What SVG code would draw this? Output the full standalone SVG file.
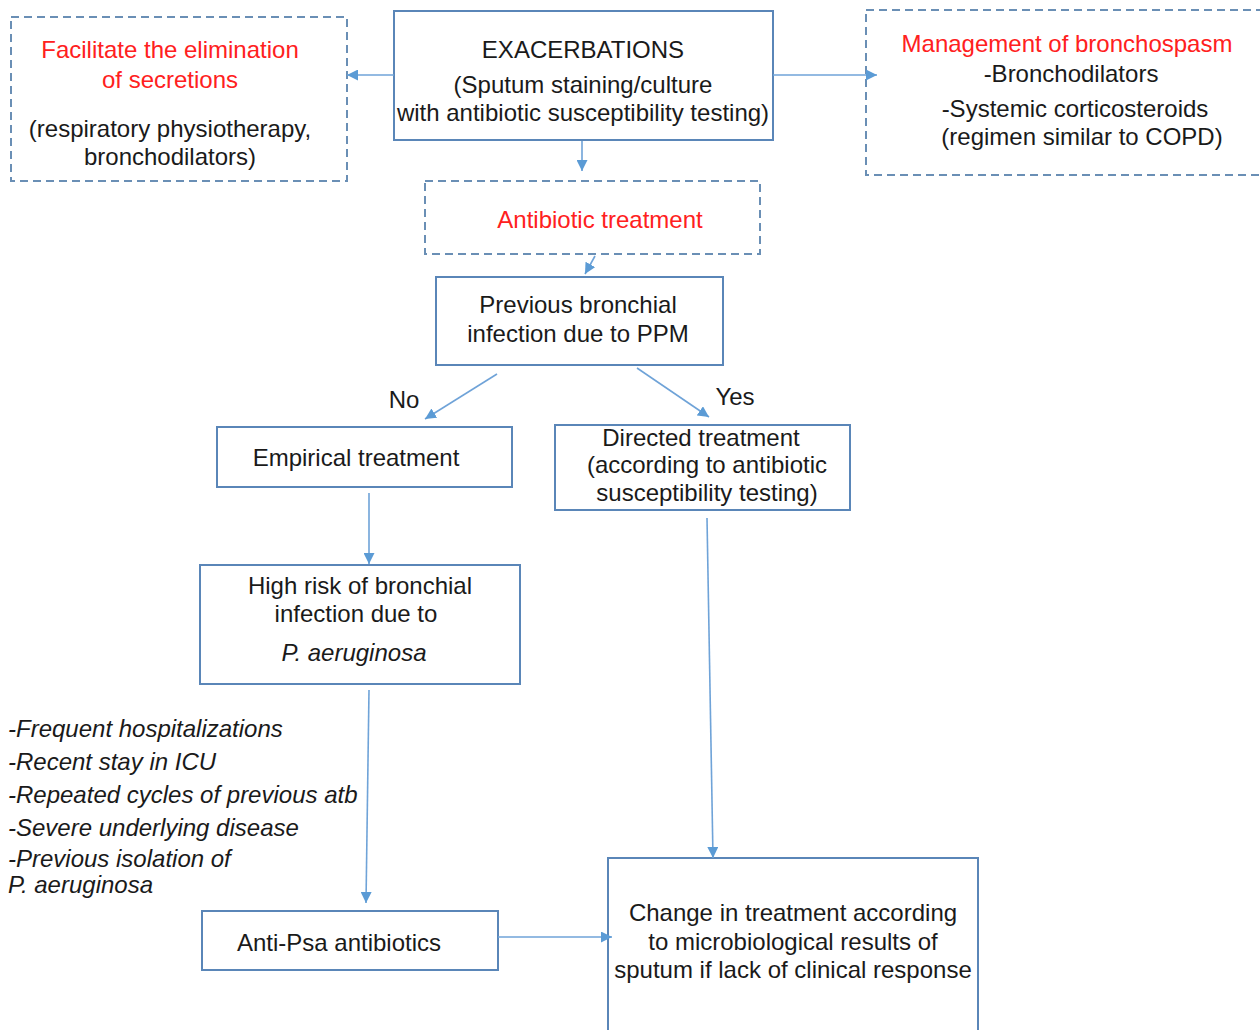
<svg xmlns="http://www.w3.org/2000/svg" width="1260" height="1030" viewBox="0 0 1260 1030">
<defs>
<marker id="ah" viewBox="0 0 10 10" refX="10" refY="5" markerWidth="11" markerHeight="11" markerUnits="userSpaceOnUse" orient="auto">
<path d="M0,0 L10,5 L0,10 z" fill="#5b9bd5"/>
</marker>
<style>
.box{fill:#fff;stroke:#5a86b8;stroke-width:2}
.dbox{fill:#fff;stroke:#6a8fb5;stroke-width:2;stroke-dasharray:8,5}
.t{font-family:"Liberation Sans",Arial,sans-serif;font-size:24px;fill:#1a1a1a;text-anchor:middle}
.r{fill:#ff2020}
.i{font-style:italic;text-anchor:start}
.c{fill:none;stroke:#6fa3d8;stroke-width:1.6;marker-end:url(#ah)}
</style>
</defs>
<rect width="1260" height="1030" fill="#fff"/>
<g id="secretions">
<rect class="dbox" x="11" y="17" width="336" height="164"/>
<text class="t r" x="170" y="58">Facilitate the elimination</text>
<text class="t r" x="170" y="88">of secretions</text>
<text class="t" x="170" y="137">(respiratory physiotherapy,</text>
<text class="t" x="170" y="165">bronchodilators)</text>
</g>
<g id="exacerbations">
<rect class="box" x="394" y="11" width="379" height="129"/>
<text class="t" x="583" y="58">EXACERBATIONS</text>
<text class="t" x="583" y="93">(Sputum staining/culture</text>
<text class="t" x="583" y="121">with antibiotic susceptibility testing)</text>
</g>
<g id="bronchospasm">
<rect class="dbox" x="866" y="10" width="400" height="165"/>
<text class="t r" x="1067" y="52">Management of bronchospasm</text>
<text class="t" x="1071" y="82">-Bronchodilators</text>
<text class="t" x="1075" y="117">-Systemic corticosteroids</text>
<text class="t" x="1082" y="145">(regimen similar to COPD)</text>
</g>
<g id="antibiotic">
<rect class="dbox" x="425" y="181" width="335" height="73"/>
<text class="t r" x="600" y="228">Antibiotic treatment</text>
</g>
<g id="previous">
<rect class="box" x="436" y="277" width="287" height="88"/>
<text class="t" x="578" y="313">Previous bronchial</text>
<text class="t" x="578" y="342">infection due to PPM</text>
</g>
<g id="labels">
<text class="t" x="404" y="408">No</text>
<text class="t" x="735" y="405">Yes</text>
</g>
<g id="empirical">
<rect class="box" x="217" y="427" width="295" height="60"/>
<text class="t" x="356" y="466">Empirical treatment</text>
</g>
<g id="directed">
<rect class="box" x="555" y="425" width="295" height="85"/>
<text class="t" x="701" y="446">Directed treatment</text>
<text class="t" x="707" y="473">(according to antibiotic</text>
<text class="t" x="707" y="501">susceptibility testing)</text>
</g>
<g id="highrisk">
<rect class="box" x="200" y="565" width="320" height="119"/>
<text class="t" x="360" y="594">High risk of bronchial</text>
<text class="t" x="356" y="622">infection due to</text>
<text class="t" x="354" y="661" font-style="italic">P. aeruginosa</text>
</g>
<g id="riskfactors">
<text class="t i" x="8" y="737">-Frequent hospitalizations</text>
<text class="t i" x="8" y="770">-Recent stay in ICU</text>
<text class="t i" x="8" y="803">-Repeated cycles of previous atb</text>
<text class="t i" x="8" y="836">-Severe underlying disease</text>
<text class="t i" x="8" y="867">-Previous isolation of</text>
<text class="t i" x="8" y="893">P. aeruginosa</text>
</g>
<g id="antipsa">
<rect class="box" x="202" y="911" width="296" height="59"/>
<text class="t" x="339" y="951">Anti-Psa antibiotics</text>
</g>
<g id="change">
<rect class="box" x="608" y="858" width="370" height="176"/>
<text class="t" x="793" y="921">Change in treatment according</text>
<text class="t" x="793" y="950">to microbiological results of</text>
<text class="t" x="793" y="978">sputum if lack of clinical response</text>
</g>
<g id="connectors">
<line class="c" x1="394" y1="75" x2="347" y2="75"/>
<line class="c" x1="773" y1="75" x2="877" y2="75"/>
<line class="c" x1="582" y1="141" x2="582" y2="171"/>
<line class="c" x1="595" y1="256" x2="585" y2="274"/>
<line class="c" x1="497" y1="374" x2="425" y2="419"/>
<line class="c" x1="637" y1="368" x2="709" y2="417"/>
<line class="c" x1="369" y1="493" x2="369" y2="564"/>
<line class="c" x1="369" y1="690" x2="366" y2="903"/>
<line class="c" x1="498" y1="937" x2="612" y2="937"/>
<line class="c" x1="707" y1="518" x2="713" y2="858"/>
</g>
</svg>
